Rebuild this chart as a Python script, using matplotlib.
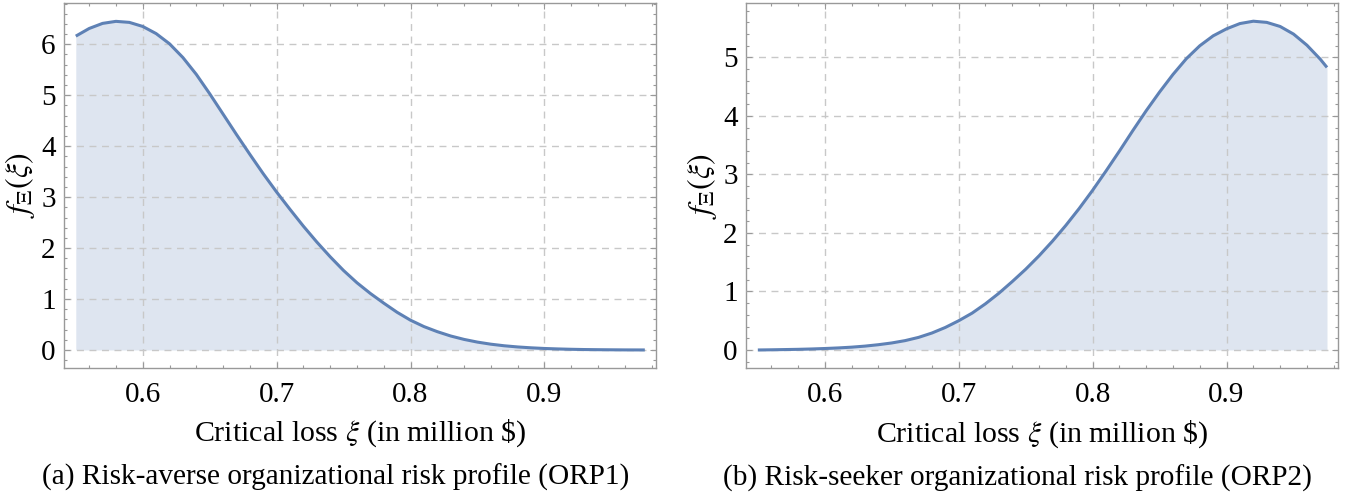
import numpy as np
import matplotlib
matplotlib.use("Agg")
import matplotlib.pyplot as plt
from matplotlib.ticker import MultipleLocator

plt.rcParams.update({"font.family": "Liberation Serif", "mathtext.fontset": "stix"})

# ORP1 (risk-averse) density
x_orp1 = [0.55, 0.56, 0.57, 0.58, 0.59, 0.60, 0.61, 0.62, 0.63, 0.64, 0.65, 0.66,
          0.67, 0.68, 0.69, 0.70, 0.71, 0.72, 0.73, 0.74, 0.75, 0.76, 0.77, 0.78,
          0.79, 0.80, 0.81, 0.82, 0.83, 0.84, 0.85, 0.86, 0.87, 0.88, 0.89, 0.90,
          0.91, 0.92, 0.93, 0.94, 0.95, 0.96, 0.975]
y_orp1 = [6.16, 6.31, 6.41, 6.45, 6.43, 6.35, 6.21, 6.01, 5.74, 5.41, 5.03, 4.63,
          4.23, 3.84, 3.46, 3.10, 2.76, 2.43, 2.12, 1.83, 1.56, 1.32, 1.11, 0.92,
          0.74, 0.585, 0.46, 0.36, 0.275, 0.208, 0.155, 0.114, 0.083, 0.06, 0.043, 0.03,
          0.021, 0.014, 0.009, 0.006, 0.004, 0.002, 0.001]

# ORP2 (risk-seeker) density
x_orp2 = [0.55, 0.56, 0.57, 0.58, 0.59, 0.60, 0.61, 0.62, 0.63, 0.64, 0.65, 0.66,
          0.67, 0.68, 0.69, 0.70, 0.71, 0.72, 0.73, 0.74, 0.75, 0.76, 0.77, 0.78,
          0.79, 0.80, 0.81, 0.82, 0.83, 0.84, 0.85, 0.86, 0.87, 0.88, 0.89, 0.90,
          0.91, 0.92, 0.93, 0.94, 0.95, 0.96, 0.97, 0.975]
y_orp2 = [0.0, 0.003, 0.007, 0.011, 0.017, 0.025, 0.035, 0.048, 0.066, 0.09, 0.12, 0.16,
          0.215, 0.29, 0.385, 0.50, 0.63, 0.79, 0.97, 1.17, 1.38, 1.61, 1.86, 2.13,
          2.42, 2.73, 3.06, 3.40, 3.75, 4.09, 4.41, 4.71, 4.98, 5.20, 5.37, 5.49,
          5.58, 5.62, 5.60, 5.53, 5.40, 5.21, 4.97, 4.83]

xticks = [0.6, 0.7, 0.8, 0.9]
yticks_orp1 = [0, 1, 2, 3, 4, 5, 6]
yticks_orp2 = [0, 1, 2, 3, 4, 5]
captions = ["(a) Risk-averse organizational risk profile (ORP1)",
            "(b) Risk-seeker organizational risk profile (ORP2)"]

LINE = "#5E81B5"
FRAME = "#999999"

fig = plt.figure(figsize=(13.53, 5.01), dpi=100)


def panel(rect, x, y, yticks, ylim, caption):
    ax = fig.add_axes(rect)
    ax.fill_between(x, 0, y, color=LINE, alpha=0.2, lw=0, zorder=1)
    ax.plot(x, y, color=LINE, lw=2.2, zorder=3, solid_capstyle="butt",
            solid_joinstyle="round")
    ax.set_xlim(0.5412, 0.9834)
    ax.set_ylim(*ylim)
    ax.set_xticks(xticks)
    ax.set_yticks(yticks)
    ax.set_xticklabels([f"{t:.1f}" for t in xticks])
    ax.xaxis.set_minor_locator(MultipleLocator(0.02))
    ax.yaxis.set_minor_locator(MultipleLocator(0.2))
    ax.tick_params(which="both", direction="in", top=True, right=True,
                   color=FRAME, labelsize=21, width=0.8)
    ax.tick_params(which="major", length=4.5)
    ax.tick_params(which="minor", length=2.5)
    ax.tick_params(axis="x", which="major", pad=10)
    ax.tick_params(axis="y", which="major", pad=6)
    for s in ax.spines.values():
        s.set_color(FRAME)
        s.set_linewidth(1.0)
    ax.grid(True, which="major", color="#c8c8c8", ls=(0, (5, 4)), lw=1.0, zorder=2)
    ax.set_axisbelow(False)
    ax.set_xlabel(r"Critical loss $\xi$ (in million \$)", fontsize=21.5, labelpad=7)
    ax.set_ylabel(r"$f_{\Xi}(\xi)$", fontsize=23)
    ax.yaxis.set_label_coords(-0.046, 0.5)
    ax.text(0.458, -0.301, caption, transform=ax.transAxes, ha="center", va="center",
            fontsize=21.1)
    return ax


panel([0.0473, 0.2661, 0.4376, 0.7285], x_orp1, y_orp1, yticks_orp1,
      (-0.347, 6.816), captions[0])
panel([0.5514, 0.2649, 0.4377, 0.7285], x_orp2, y_orp2, yticks_orp2,
      (-0.313, 5.926), captions[1])

fig.savefig("out.png", dpi=100)
